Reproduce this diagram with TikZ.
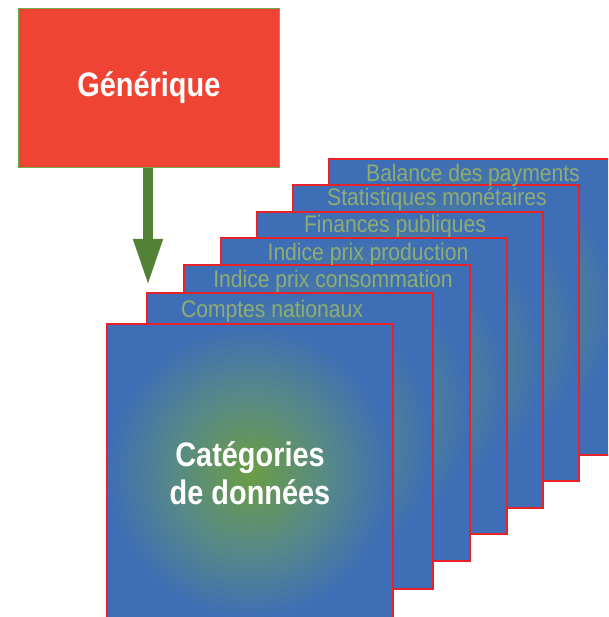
\documentclass[tikz,border=0pt]{standalone}
\usepackage{fontspec}
\setmainfont{Liberation Sans}
\newfontfamily\lblfont[FakeStretch=0.88]{Liberation Sans}
\newfontfamily\bigfont[FakeStretch=0.85]{Liberation Sans}
\usetikzlibrary{arrows.meta}
\definecolor{boxred}{HTML}{EF4433}
\definecolor{boxedge}{HTML}{70AD47}
\definecolor{arrgreen}{HTML}{538135}
\definecolor{cblue}{HTML}{3E6EB5}
\definecolor{cgreen}{HTML}{6C9C44}
\definecolor{cmid}{HTML}{578A86}
\definecolor{cedge}{HTML}{E8222B}
\definecolor{lbltext}{HTML}{8FAD6F}
\pgfdeclareradialshading{cardshade}{\pgfpoint{0bp}{0bp}}{color(0bp)=(cgreen); color(13bp)=(cmid); color(25bp)=(cblue); color(50bp)=(cblue)}
\tikzset{
  card/.style={rectangle, shading=cardshade, postaction={draw=cedge, line width=1.5pt},
    minimum width=286pt, minimum height=296pt, anchor=north west, inner sep=0pt},
  lbl/.style={anchor=base, text=lbltext, inner sep=0pt, font=\lblfont\fontsize{24}{28}\selectfont},
  gen/.style={rectangle, fill=boxred, draw=boxedge, line width=0.8pt, anchor=north west,
    minimum width=261pt, minimum height=159pt, text=white, inner sep=0pt,
    font=\bigfont\bfseries\fontsize{34}{38}\selectfont},
  flow/.style={draw=arrgreen, line width=10pt, -{Triangle[width=27pt,length=47pt]}, fill=arrgreen}
}
\begin{document}
\begin{tikzpicture}[x=1pt,y=-1pt]
\useasboundingbox (0,0) rectangle (608,617);
\clip (0,0) rectangle (608,617);
\node[gen] (generique) at (18,8) {Générique};
\coordinate (tip) at (148,286);
\draw[flow] (generique.south -| tip) -- (tip);
\node[card] (c6) at (329,159) {};
\node[card] (c5) at (293,185) {};
\node[card] (c4) at (257,212) {};
\node[card] (c3) at (221,238) {};
\node[card] (c2) at (184,265) {};
\node[card] (c1) at (147,293) {};
\node[card] (c0) at (107,324) {};
\node[lbl] (l6) at (473,182) {Balance des payments};
\node[lbl] (l5) at (437,206) {Statistiques monétaires};
\node[lbl] (l4) at (395,233) {Finances publiques};
\node[lbl] (l3) at (368,260) {Indice prix production};
\node[lbl] (l2) at (333,287) {Indice prix consommation};
\node[lbl] (l1) at (272,317) {Comptes nationaux};
\node[text=white, align=center, inner sep=0pt, font=\bigfont\bfseries\fontsize{34}{38}\selectfont] (cat) at (250,473) {Catégories\\de données};
\end{tikzpicture}
\end{document}
